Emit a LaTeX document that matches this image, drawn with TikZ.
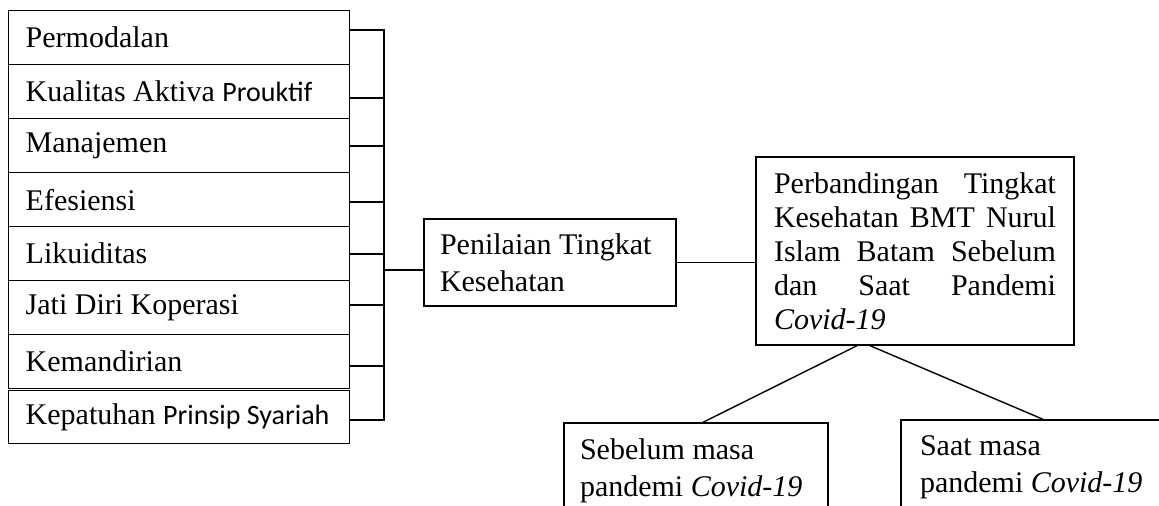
\documentclass[tikz,border=0pt]{standalone}
\usepackage{fontspec}
\setmainfont{Liberation Serif}
\newfontfamily\calibri{Carlito}
\newcommand{\spasi}{\spaceskip=0pt\xspaceskip=0pt\relax}
\newcommand{\rata}[1]{\makebox[141pt][s]{\spasi #1}}
\newcommand{\kecil}[1]{{\calibri\fontsize{14}{17}\selectfont #1}}

\begin{document}
\begin{tikzpicture}[
    x=0.5pt,
    y=-0.5pt,
    line width=0.7pt,
    font=\fontsize{15}{18.5}\selectfont,
    aspek/.style={draw, anchor=north west, text width=153.5pt, inner xsep=8.5pt, inner ysep=0pt, minimum height=27pt, align=left, execute at begin node=\spasi},
    kotak/.style={draw, inner ysep=0pt, align=left, execute at begin node=\spasi}
]
\useasboundingbox (0,0) rectangle (1159,506);
\clip (0,0) rectangle (1159,506);

% aspek penilaian
\foreach \t [count=\i] in {Permodalan, Kualitas Aktiva \kecil{Prouktif}, Manajemen, Efesiensi, Likuiditas, Jati Diri Koperasi, Kemandirian} {
    \node[aspek] (k\i) at (8,{10+(\i-1)*54}) {\mbox{\t}};
}
\node[aspek, minimum height=26.5pt] (k8) at (8,390) {\mbox{Kepatuhan \kecil{Prinsip Syariah}}};

% kurung penghubung
\coordinate (bar) at (384,270);
\draw (k1.east |- 0,30) -- (bar |- 0,30) -- (bar |- 0,420) -- (k8.east |- 0,420);
\foreach \i/\ty in {2/98, 3/146, 4/202, 5/254, 6/305, 7/366} {
    \draw (k\i.east |- 0,\ty) -- (bar |- 0,\ty);
}

\node[kotak, text width=110pt, inner xsep=8pt, minimum height=43.5pt] (nilai) at (550,262.5) {Penilaian Tingkat\\Kesehatan};
\node[kotak, text width=141pt, inner xsep=9pt, minimum height=94pt, font=\fontsize{15}{17}\selectfont] (banding) at (915,251)
    {\rata{Perbandingan Tingkat}\\\rata{Kesehatan BMT Nurul}\\\rata{Islam Batam Sebelum}\\\rata{dan Saat Pandemi}\\\textit{Covid-19}};

% dua periode
\node[kotak, text width=116pt, inner xsep=8pt, minimum height=47.5pt] (sebelum) at (696,470.5) {Sebelum masa\\pandemi \textit{Covid-19}};
\node[kotak, text width=118pt, inner xsep=9.5pt, minimum height=47pt] (saat) at (1038,467) {Saat masa\\pandemi \textit{Covid-19}};

\draw (bar) -- (bar -| nilai.west);
\draw (nilai.east) -- (nilai.east -| banding.west);
\draw ([xshift=-29pt]banding.south) -- ([xshift=3.5pt]sebelum.north);
\draw ([xshift=-22.5pt]banding.south) -- ([xshift=2.5pt]saat.north);
\end{tikzpicture}
\end{document}
